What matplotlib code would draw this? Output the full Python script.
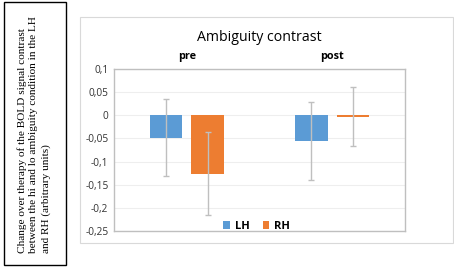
import matplotlib
matplotlib.use('Agg')
from matplotlib import pyplot as plt
from matplotlib.patches import Rectangle
from matplotlib.ticker import FuncFormatter
import numpy as np

groups = ["pre", "post"]
series = ["LH", "RH"]
lh_vals = [-0.048, -0.055]
rh_vals = [-0.126, -0.003]
lh_err = [0.083, 0.084]
rh_err = [0.090, 0.064]
colors = ["#5b9bd5", "#ed7d31"]

W, H = 454, 267
fig = plt.figure(figsize=(W / 100, H / 100), dpi=100)
fig.patch.set_facecolor("white")

# left text box
fig.patches.append(Rectangle((4 / W, 1 - 265 / H), 62 / W, 263 / H, transform=fig.transFigure,
                             fill=False, edgecolor="black", linewidth=1.0))
fig.text(34 / W, 1 - 135 / H,
         "Change over therapy of the BOLD signal contrast\n"
         "between the hi and lo ambiguity condition in the LH\n"
         "and RH (arbitrary units)",
         rotation=90, ha="center", va="center", family="Liberation Serif",
         fontsize=8.1, linespacing=1.35, multialignment="left")

# chart border
fig.patches.append(Rectangle((80 / W, 1 - 243 / H), 373 / W, 226 / H, transform=fig.transFigure,
                             fill=False, edgecolor="#d9d9d9", linewidth=0.8))

ax = fig.add_axes([114 / W, 1 - 231 / H, 291 / W, 162 / H])
x = np.arange(len(groups))
bw = 0.223
off = 0.143
ecfg = dict(ecolor="#bfbfbf", capsize=2.5, elinewidth=1.0, capthick=1.0)
ax.bar(x - off, lh_vals, bw, color=colors[0], yerr=lh_err, error_kw=ecfg, label=series[0], zorder=2)
ax.bar(x + off, rh_vals, bw, color=colors[1], yerr=rh_err, error_kw=ecfg, label=series[1], zorder=2)

ax.set_xlim(-0.5, 1.5)
ax.set_ylim(-0.25, 0.1)
ax.set_yticks(np.arange(-0.25, 0.101, 0.05))
ax.yaxis.set_major_formatter(FuncFormatter(
    lambda v, p: "0" if abs(v) < 1e-9 else ("%g" % round(v, 2)).replace(".", ",")))
ax.grid(axis="y", color="#eeeeee", linewidth=0.8, zorder=0)
ax.set_axisbelow(True)
ax.tick_params(axis="y", length=0, labelsize=7.3, pad=4, labelcolor="#333333")
for t in ax.get_yticklabels():
    t.set_family("Open Sans")
ax.xaxis.set_ticks_position("top")
ax.set_xticks(x)
ax.set_xticklabels(groups, fontweight="bold", fontsize=7.8, family="Open Sans")
ax.tick_params(axis="x", length=0, pad=5)
for s in ax.spines.values():
    s.set_color("#bfbfbf")
    s.set_linewidth(1.0)

ax.set_title("Ambiguity contrast", fontsize=10.2, family="Open Sans", pad=20)

leg = ax.legend(loc="lower center", ncol=2, frameon=False,
                handlelength=0.6, handleheight=0.6, handletextpad=0.4, columnspacing=1.2,
                borderaxespad=0.1, prop={"family": "Open Sans", "weight": "bold", "size": 8},
                bbox_to_anchor=(0.49, -0.04))

plt.savefig("out.png", dpi=100)
